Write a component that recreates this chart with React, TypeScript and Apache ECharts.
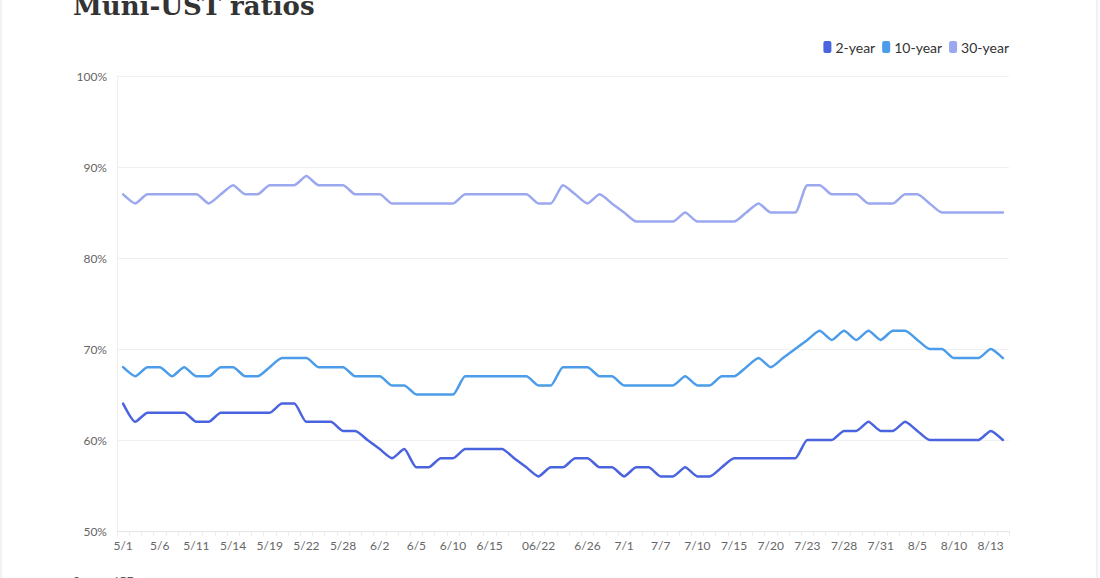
import React, { useEffect, useRef } from "react";
import * as echarts from "echarts";

const categories = [
  "5/1", "5/2", "5/3", "5/6", "5/7", "5/8", "5/11", "5/12", "5/13", "5/14",
  "5/15", "5/16", "5/19", "5/20", "5/21", "5/22", "5/23", "5/27", "5/28", "5/29",
  "5/30", "6/2", "6/3", "6/4", "6/5", "6/6", "6/9", "6/10", "6/11", "6/12",
  "6/15", "6/16", "6/17", "6/18", "06/22", "6/23", "6/24", "6/25", "6/26", "6/29",
  "6/30", "7/1", "7/2", "7/6", "7/7", "7/8", "7/9", "7/10", "7/13", "7/14",
  "7/15", "7/16", "7/17", "7/20", "7/21", "7/22", "7/23", "7/24", "7/27", "7/28",
  "7/29", "7/30", "7/31", "8/3", "8/4", "8/5", "8/6", "8/7", "8/10", "8/11",
  "8/12", "8/13", "8/14",
];

const labeledTicks = [
  "5/1", "5/6", "5/11", "5/14", "5/19", "5/22", "5/28", "6/2", "6/5", "6/10",
  "6/15", "06/22", "6/26", "7/1", "7/7", "7/10", "7/15", "7/20", "7/23", "7/28",
  "7/31", "8/5", "8/10", "8/13",
];

const twoYear = [
  64, 62, 63, 63, 63, 63, 62, 62, 63, 63,
  63, 63, 63, 64, 64, 62, 62, 62, 61, 61,
  60, 59, 58, 59, 57, 57, 58, 58, 59, 59,
  59, 59, 58, 57, 56, 57, 57, 58, 58, 57,
  57, 56, 57, 57, 56, 56, 57, 56, 56, 57,
  58, 58, 58, 58, 58, 58, 60, 60, 60, 61,
  61, 62, 61, 61, 62, 61, 60, 60, 60, 60,
  60, 61, 60,
];

const tenYear = [
  68, 67, 68, 68, 67, 68, 67, 67, 68, 68,
  67, 67, 68, 69, 69, 69, 68, 68, 68, 67,
  67, 67, 66, 66, 65, 65, 65, 65, 67, 67,
  67, 67, 67, 67, 66, 66, 68, 68, 68, 67,
  67, 66, 66, 66, 66, 66, 67, 66, 66, 67,
  67, 68, 69, 68, 69, 70, 71, 72, 71, 72,
  71, 72, 71, 72, 72, 71, 70, 70, 69, 69,
  69, 70, 69,
];

const thirtyYear = [
  87, 86, 87, 87, 87, 87, 87, 86, 87, 88,
  87, 87, 88, 88, 88, 89, 88, 88, 88, 87,
  87, 87, 86, 86, 86, 86, 86, 86, 87, 87,
  87, 87, 87, 87, 86, 86, 88, 87, 86, 87,
  86, 85, 84, 84, 84, 84, 85, 84, 84, 84,
  84, 85, 86, 85, 85, 85, 88, 88, 87, 87,
  87, 86, 86, 86, 87, 87, 86, 85, 85, 85,
  85, 85, 85,
];

const seriesNames = ["2-year", "10-year", "30-year"];
const colors = ["#4a63de", "#4b9ce9", "#9ba8ef"];

const FONT = "Lato, 'Noto Sans', sans-serif";

export default function App() {
  const ref = useRef<HTMLDivElement>(null);

  useEffect(() => {
    document.body.style.margin = "0";
    if (!ref.current) return;
    const chart = echarts.init(ref.current, undefined, { renderer: "svg" });
    const data = [twoYear, tenYear, thirtyYear];
    chart.setOption({
      animation: false,
      backgroundColor: "#ffffff",
      textStyle: { fontFamily: FONT },
      color: colors,
      graphic: [
        {
          type: "rect",
          shape: { x: 1, y: -10, width: 1096, height: 600 },
          style: { fill: "none", stroke: "#e4e4e4", lineWidth: 1 },
          silent: true,
        },
        {
          type: "text",
          x: 73,
          y: 6,
          style: {
            text: "Muni-UST ratios",
            font: "bold 26px 'DejaVu Serif', 'Liberation Serif', serif",
            fill: "#333333",
            verticalAlign: "middle",
            align: "left",
          },
        },
        {
          type: "text",
          x: 73,
          y: 574,
          style: {
            text: "Source: ICE",
            font: "12px Lato, sans-serif",
            fill: "#555555",
            verticalAlign: "top",
            align: "left",
          },
        },
      ],
      legend: {
        right: 86,
        top: 35,
        itemWidth: 8,
        itemHeight: 12,
        itemGap: 7,
        icon: "roundRect",
        textStyle: { fontFamily: FONT, fontSize: 14, color: "#333333", padding: [0, 0, 0, -1] },
        data: seriesNames,
      },
      grid: { left: 117, right: 91, top: 76, bottom: 47, containLabel: false },
      xAxis: {
        type: "category",
        data: categories,
        boundaryGap: true,
        axisLine: { show: true, lineStyle: { color: "#e6e6e6" } },
        axisTick: { show: true, interval: 0, length: 5, lineStyle: { color: "#ececec" } },
        axisLabel: {
          interval: (index: number, value: string) => labeledTicks.includes(value),
          color: "#666666",
          fontSize: 12,
          fontFamily: FONT,
          margin: 8,
        },
        splitLine: { show: false },
      },
      yAxis: {
        type: "value",
        min: 50,
        max: 100,
        interval: 10,
        axisLine: { show: true, lineStyle: { color: "#eeeeee" } },
        axisTick: { show: false },
        axisLabel: {
          formatter: "{value}%",
          color: "#666666",
          fontSize: 12,
          fontFamily: FONT,
          margin: 10,
        },
        splitLine: { show: true, lineStyle: { color: "#f0f0f0" } },
      },
      series: seriesNames.map((name, i) => ({
        name,
        type: "line",
        data: data[i],
        showSymbol: false,
        symbol: "none",
        smooth: 0.2,
        lineStyle: { width: 2.5, color: colors[i], cap: "round", join: "round" },
        itemStyle: { color: colors[i] },
      })),
    });
    return () => chart.dispose();
  }, []);

  return <div ref={ref} style={{ width: 1100, height: 578 }} />;
}
